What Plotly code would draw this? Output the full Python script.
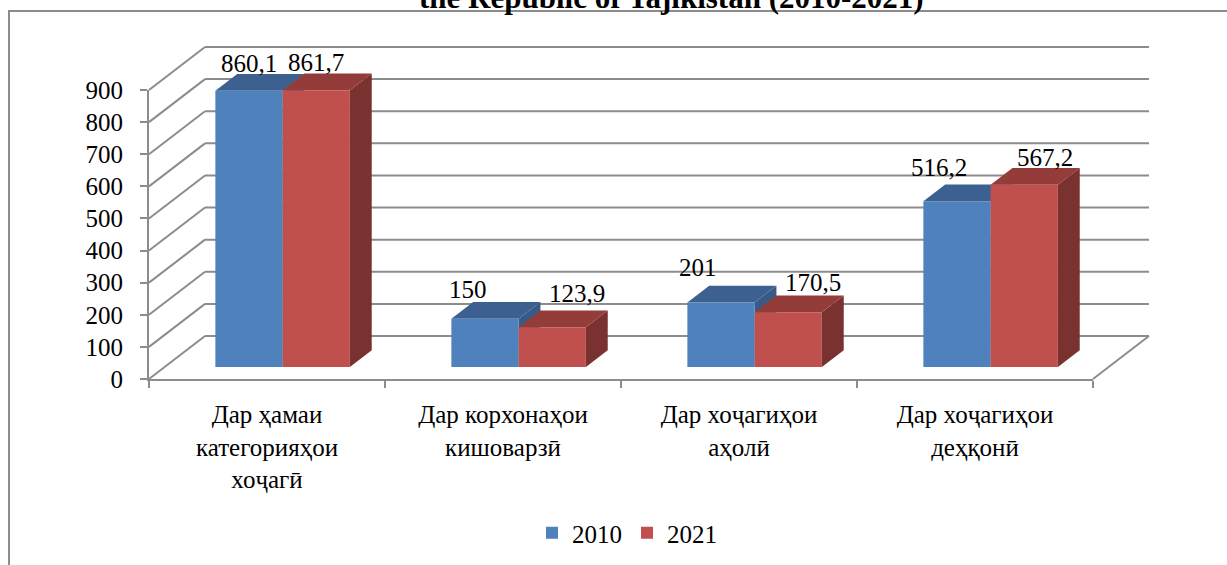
import plotly.graph_objects as go

# ---------------- data ----------------
CATEGORIES = [
    "Дар ҳамаи<br>категорияҳои<br>хоҷагӣ",
    "Дар корхонаҳои<br>кишоварзӣ",
    "Дар хоҷагиҳои<br>аҳолӣ",
    "Дар хоҷагиҳои<br>деҳқонӣ",
]
SERIES_NAMES = ["2010", "2021"]
VALUES_2010 = [860.1, 150, 201, 516.2]
VALUES_2021 = [861.7, 123.9, 170.5, 567.2]
Y_TICKS = [0, 100, 200, 300, 400, 500, 600, 700, 800, 900]
TITLE = "the Republic of Tajikistan (2010-2021)"

# ---------------- style / layout ----------------
FRONT_COLORS = ["#4F81BD", "#C0504D"]
TOP_COLORS = ["#3C6191", "#933C3A"]
SIDE_COLORS = ["#375A86", "#7A3230"]
GRID_COLOR = "#8C8C8C"
FONT = "Liberation Serif"
FS = 25

W, H = 1227, 565
FL, FR, FT, FB = 149, 1093, 90, 379          # front plane box (pixels)
DEPTH_PX = (56, 43)                           # 3-D depth of the chart box
BAR_SHIFT = 12 / 43                           # bar front position inside depth
BAR_DEPTH = 0.39                              # bar depth as fraction of box depth
BARGAP = 0.43
LABEL_XSHIFT = [(0, 0), (-17, 25), (-23, 25), (-18, 21)]
LABEL_YSHIFT = [(12, 12), (14, 18), (19, 14), (18, 12)]

n = len(CATEGORIES)
XR = (-0.5, n - 0.5)
YR = (Y_TICKS[0], Y_TICKS[-1])
pxx = (FR - FL) / (XR[1] - XR[0])
pxy = (FB - FT) / (YR[1] - YR[0])
DX = DEPTH_PX[0] / pxx
DY = DEPTH_PX[1] / pxy


def px(x):
    return (x - XR[0]) / (XR[1] - XR[0])


def py(v):
    return (v - YR[0]) / (YR[1] - YR[0])


def ppx(p):
    return (p - FL) / (FR - FL)


def ppy(p):
    return (FB - p) / (FB - FT)


shapes = []


def add_line(x0, y0, x1, y1):
    shapes.append(dict(type="line", xref="paper", yref="paper",
                       x0=px(x0), y0=py(y0), x1=px(x1), y1=py(y1),
                       line=dict(color=GRID_COLOR, width=2), layer="below"))


def add_poly(pts, color):
    d = "M " + " L ".join(f"{px(x):.6f},{py(y):.6f}" for x, y in pts) + " Z"
    shapes.append(dict(type="path", xref="paper", yref="paper", path=d,
                       fillcolor=color, line=dict(width=0), layer="below"))


# outer chart frame
shapes.append(dict(type="rect", xref="paper", yref="paper",
                   x0=ppx(9), x1=ppx(1245), y0=ppy(600), y1=ppy(11),
                   line=dict(color=GRID_COLOR, width=2), layer="below"))

# walls: side wall and back wall gridlines, floor edge
for v in Y_TICKS:
    add_line(XR[0], v, XR[0] + DX, v + DY)
    add_line(XR[0] + DX, v + DY, XR[1] + DX, v + DY)
add_line(XR[1], 0, XR[1] + DX, DY)

# 3-D faces of the bars
sx, sy = BAR_SHIFT * DX, BAR_SHIFT * DY
bw = (1 - BARGAP) / 2
bdx, bdy = BAR_DEPTH * DX, BAR_DEPTH * DY
ALL_VALUES = [VALUES_2010, VALUES_2021]
for k, vals in enumerate(ALL_VALUES):
    for i, v in enumerate(vals):
        x0 = i - (1 - BARGAP) / 2 + k * bw + sx
        x1 = x0 + bw
        b, t = sy, v + sy
        add_poly([(x1, b), (x1, t), (x1 + bdx, t + bdy), (x1 + bdx, b + bdy)], SIDE_COLORS[k])
        add_poly([(x0, t), (x0 + bdx, t + bdy), (x1 + bdx, t + bdy), (x1, t)], TOP_COLORS[k])

fig = go.Figure()
# empty trace so that the front axes (x/y) get drawn
fig.add_trace(go.Scatter(x=list(range(n)), y=[None] * n, mode="markers",
                         showlegend=False, hoverinfo="skip", xaxis="x", yaxis="y"))
for k, vals in enumerate(ALL_VALUES):
    fig.add_trace(go.Bar(
        x=list(range(n)), y=vals, name=SERIES_NAMES[k],
        marker=dict(color=FRONT_COLORS[k], line=dict(width=0)),
        xaxis="x2", yaxis="y2", hoverinfo="skip",
    ))

annotations = []
for k, vals in enumerate(ALL_VALUES):
    for i, v in enumerate(vals):
        xc = i - (1 - BARGAP) / 2 + k * bw + bw / 2
        annotations.append(dict(
            x=xc, y=v, xref="x2", yref="y2", xanchor="center", yanchor="bottom",
            text=f"{v:g}".replace(".", ","), showarrow=False,
            xshift=LABEL_XSHIFT[i][k], yshift=LABEL_YSHIFT[i][k],
            font=dict(family=FONT, size=FS, color="black"),
        ))

annotations.append(dict(
    x=ppx(671), y=ppy(17), xref="paper", yref="paper",
    xanchor="center", yanchor="bottom", showarrow=False,
    text=f"<b>{TITLE}</b>", font=dict(family=FONT, size=31, color="black"),
))

fig.update_layout(
    width=W, height=H, autosize=False,
    margin=dict(l=FL, r=W - FR, t=FT, b=H - FB, autoexpand=False),
    paper_bgcolor="white", plot_bgcolor="rgba(0,0,0,0)",
    barmode="group", bargap=BARGAP, bargroupgap=0,
    font=dict(family=FONT, size=FS, color="black"),
    shapes=shapes, annotations=annotations,
    showlegend=True,
    legend=dict(orientation="h", x=ppx(627), xanchor="center",
                y=ppy(533), yanchor="middle", font=dict(family=FONT, size=FS),
                bgcolor="rgba(0,0,0,0)", itemwidth=30, tracegroupgap=0),
    xaxis=dict(range=list(XR), tickmode="array", tickvals=list(range(n)),
               ticktext=CATEGORIES, ticks="", showline=True, linecolor=GRID_COLOR,
               linewidth=2, showgrid=False, zeroline=False, ticklabelstandoff=12,
               minor=dict(tickmode="array", tickvals=[i - 0.5 for i in range(n + 1)],
                          ticks="outside", ticklen=7, tickwidth=2, tickcolor=GRID_COLOR),
               tickfont=dict(family=FONT, size=FS, color="black"), fixedrange=True),
    yaxis=dict(range=list(YR), tickmode="array", tickvals=Y_TICKS, ticks="outside",
               ticklen=7, tickwidth=2, tickcolor=GRID_COLOR, showline=True,
               linecolor=GRID_COLOR, linewidth=2, showgrid=False, zeroline=False,
               ticklabelstandoff=12,
               tickfont=dict(family=FONT, size=FS, color="black"), fixedrange=True),
    xaxis2=dict(domain=[sx / (XR[1] - XR[0]), 1], range=[XR[0], XR[1] - sx],
                anchor="y2", visible=False, fixedrange=True),
    yaxis2=dict(domain=[sy / (YR[1] - YR[0]), 1], range=[YR[0], YR[1] - sy],
                anchor="x2", visible=False, fixedrange=True),
)

fig.write_html(
    "out.html",
    config={"displayModeBar": False},
    post_script="document.body.style.margin='0';document.body.style.overflow='hidden';",
)
